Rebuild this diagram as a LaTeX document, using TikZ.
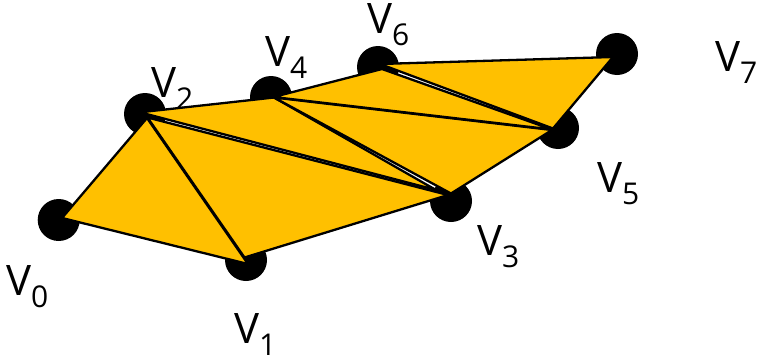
\documentclass[tikz,border=0pt]{standalone}
\usepackage{fontspec}
\setmainfont{Open Sans}
\usepackage{xcolor}
\usetikzlibrary{positioning}
\definecolor{stripfill}{HTML}{FFC000}
\newcommand{\vname}[1]{V\raisebox{-12pt}{\fontsize{30}{30}\selectfont #1}}

\begin{document}
\begin{tikzpicture}[
  x=1pt, y=-1pt,
  vertex/.style = {draw=none, fill=black, circle, minimum size=42pt, inner sep=0pt},
  vlabel/.style = {anchor=base west, inner sep=0pt, font=\fontsize{42}{42}\selectfont},
  tri/.style    = {draw=black, fill=stripfill, line width=2.3pt, line join=miter}
]
  \useasboundingbox (0,0) rectangle (757,356);

  \node[vlabel] (L0) at (6,295)   {\vname{0}};
  \node[vlabel] (L1) at (234,343.5) {\vname{1}};
  \node[vlabel] (L2) at (151,97)  {\vname{2}};
  \node[vlabel] (L3) at (477,255) {\vname{3}};
  \node[vlabel] (L4) at (265,66)  {\vname{4}};
  \node[vlabel] (L5) at (597,192) {\vname{5}};
  \node[vlabel] (L6) at (367,33)  {\vname{6}};
  \node[vlabel] (L7) at (715,71)  {\vname{7}};

  \node[vertex] (V0) at (58.7,220) {};
  \node[vertex] (V1) at (246,260)  {};
  \node[vertex] (V2) at (145,114)  {};
  \node[vertex] (V3) at (451,201)  {};
  \node[vertex] (V4) at (271,97)   {};
  \node[vertex] (V5) at (558,128)  {};
  \node[vertex] (V6) at (378,67)   {};
  \node[vertex] (V7) at (617,54)   {};

  % corners of the strip, each triangle sits a little off the dots
  \coordinate (a0) at (62,218);
  \coordinate (a1) at (248,264);
  \coordinate (a2) at (147,118);
  \coordinate (b1) at (244.5,257.5);
  \coordinate (b2) at (147.5,117.5);
  \coordinate (b3) at (448,195);
  \coordinate (c2) at (140,112.3);
  \coordinate (c3) at (436,190);
  \coordinate (c4) at (274,97.5);
  \coordinate (d3) at (451,193.5);
  \coordinate (d4) at (274,97.5);
  \coordinate (d5) at (552,130);
  \coordinate (e4) at (273.5,97);
  \coordinate (e5) at (552,129.5);
  \coordinate (e6) at (382,69);
  \coordinate (f5) at (553,128.5);
  \coordinate (f6) at (380,64);
  \coordinate (f7) at (613,57);

  \draw[tri] (a0) -- (a1) -- (a2) -- cycle;
  \draw[tri] (b1) -- (b2) -- (b3) -- cycle;
  \draw[tri] (c2) -- (c3) -- (c4) -- cycle;
  \draw[tri] (d3) -- (d4) -- (d5) -- cycle;
  \draw[tri] (e4) -- (e5) -- (e6) -- cycle;
  \draw[tri] (f5) -- (f6) -- (f7) -- cycle;
\end{tikzpicture}
\end{document}
